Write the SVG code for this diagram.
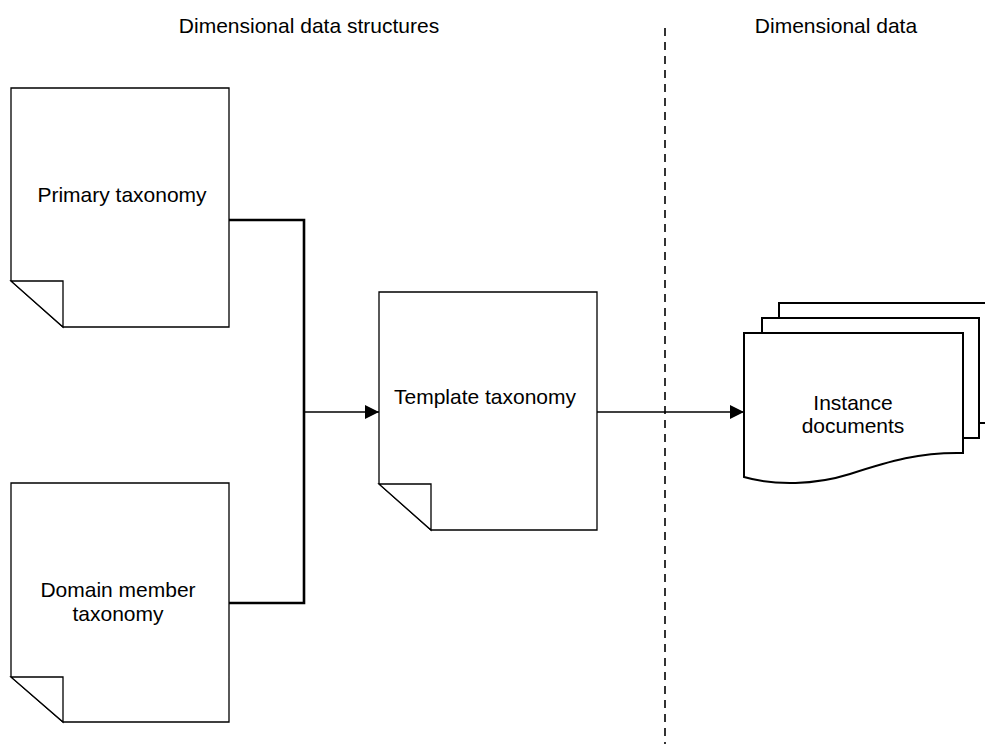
<svg xmlns="http://www.w3.org/2000/svg" width="985" height="744" viewBox="0 0 985 744">
<defs>
<style>
text{font-family:"Liberation Sans",Arial,sans-serif;font-size:21px;fill:#000;text-anchor:middle}
.doc{fill:#fff;stroke:#000;stroke-width:1.3}
.fold{fill:#fff;stroke:#000;stroke-width:1.3}
.sheet{fill:#fff;stroke:#000;stroke-width:2}
.bracket{fill:none;stroke:#000;stroke-width:2.6}
.arrow{fill:none;stroke:#000;stroke-width:1.5}
</style>
<marker id="ah" viewBox="0 0 14 14" refX="14" refY="7" markerWidth="14" markerHeight="14" markerUnits="userSpaceOnUse" orient="auto">
<path d="M0,0 L14,7 L0,14 Z" fill="#000"/>
</marker>
</defs>
<rect width="985" height="744" fill="#fff"/>
<g id="titles">
<text x="309" y="33">Dimensional data structures</text>
<text x="836" y="33">Dimensional data</text>
</g>
<g id="divider">
<line x1="665" y1="28" x2="665" y2="744" stroke="#000" stroke-width="1.6" stroke-dasharray="8,6"/>
</g>
<g id="primary">
<path class="doc" d="M11,88 H229 V327 H63 L11,281 Z"/>
<path class="fold" d="M11,281 H63 V327 Z"/>
<text x="122" y="202">Primary taxonomy</text>
</g>
<g id="domain">
<path class="doc" d="M11,483 H229 V722 H63 L11,677 Z"/>
<path class="fold" d="M11,677 H63 V722 Z"/>
<text x="118" y="597">Domain member</text>
<text x="118" y="621">taxonomy</text>
</g>
<g id="template">
<path class="doc" d="M379,292 H597 V530 H431 L379,484 Z"/>
<path class="fold" d="M379,484 H431 V530 Z"/>
<text x="485" y="404">Template taxonomy</text>
</g>
<g id="instance">
<rect class="sheet" x="779" y="303" width="216" height="120"/>
<rect class="sheet" x="762" y="318" width="217" height="120"/>
<path class="sheet" d="M744,333 H963 V453 C920,452 890,461 850,474 C815,485 775,486 744,477 Z"/>
<text x="853" y="410">Instance</text>
<text x="853" y="433">documents</text>
</g>
<g id="connectors">
<path class="bracket" d="M229,220 H304 V603 H229"/>
<line class="arrow" x1="304" y1="412" x2="379" y2="412" marker-end="url(#ah)"/>
<line class="arrow" x1="597" y1="412" x2="744" y2="412" marker-end="url(#ah)"/>
</g>
</svg>
